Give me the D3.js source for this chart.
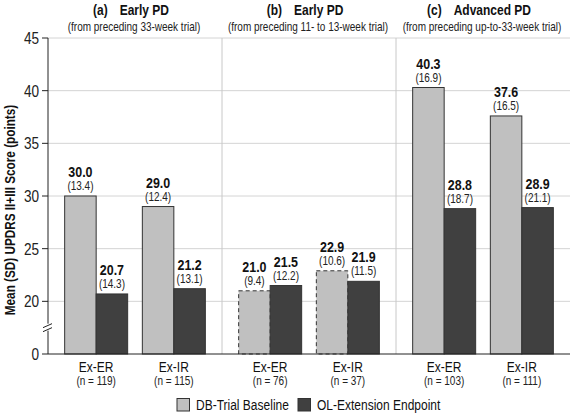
<!DOCTYPE html>
<html><head><meta charset="utf-8">
<script src="https://cdn.jsdelivr.net/npm/d3@7"></script>
<style>
body{margin:0;background:#fff;}
svg{font-family:"Liberation Sans",Arial,sans-serif;}
</style></head><body>
<svg id="c" width="570" height="413"></svg>
<script>
const panels = ["a","b","c"];
const panelTitles = ["Early PD","Early PD","Advanced PD"];
const panelSubtitles = ["(from preceding 33-week trial)","(from preceding 11- to 13-week trial)","(from preceding up-to-33-week trial)"];
const groups = [["Ex-ER","Ex-IR"],["Ex-ER","Ex-IR"],["Ex-ER","Ex-IR"]];
const nLabels = [["(n = 119)","(n = 115)"],["(n = 76)","(n = 37)"],["(n = 103)","(n = 111)"]];
const baselineMean = [[30.0,29.0],[21.0,22.9],[40.3,37.6]];
const baselineSD = [[13.4,12.4],[9.4,10.6],[16.9,16.5]];
const endpointMean = [[20.7,21.2],[21.5,21.9],[28.8,28.9]];
const endpointSD = [[14.3,13.1],[12.2,11.5],[18.7,21.1]];
const seriesNames = ["DB-Trial Baseline","OL-Extension Endpoint"];
const yTicks = [0,20,25,30,35,40,45];

const svg = d3.select("#c");
const mLeft = 48, mRight = 570, mTop = 38, mBottom = 354;
const colors = ["#c0c0c0","#404040"];
const SX = 0.8; // condensed look

function txt(parent, x, y, s, size, opts = {}) {
  const t = parent.append("text")
    .attr("transform", `translate(${x},${y}) scale(${opts.sx || SX},1)`)
    .attr("text-anchor", opts.anchor || "middle")
    .attr("font-size", size)
    .attr("font-weight", opts.bold ? "bold" : null)
    .attr("fill", opts.fill || "#1a1a1a");
  if (s !== null) t.text(s);
  return t;
}

// broken axis: 0 drawn at the position of 15
const yLin = d3.scaleLinear().domain([15,45]).range([mBottom, mTop]);
const y = v => v === 0 ? yLin(15) : yLin(v);

const xPanel = d3.scaleBand().domain(panels).range([mLeft, mRight]).padding(0);
const xGroup = d3.scalePoint().domain([0,1]).range([0, xPanel.bandwidth()]).padding(0.62);
const barW = 31.5;

// gridlines
svg.append("g").selectAll("line").data(yTicks.filter(t=>t>0)).join("line")
  .attr("x1", mLeft).attr("x2", mRight).attr("y1", d=>y(d)).attr("y2", d=>y(d))
  .attr("stroke", "#d4d4d4").attr("stroke-width", 1);

// panel separators
svg.append("g").selectAll("line").data(panels.slice(1)).join("line")
  .attr("x1", d=>xPanel(d)).attr("x2", d=>xPanel(d)).attr("y1", mTop).attr("y2", mBottom)
  .attr("stroke", "#c8c8c8").attr("stroke-width", 1);

// bars
panels.forEach((p, pi) => {
  const g = svg.append("g").attr("transform", `translate(${xPanel(p)},0)`);
  groups[pi].forEach((gname, gi) => {
    const cx = xGroup(gi);
    const vals = [baselineMean[pi][gi], endpointMean[pi][gi]];
    const sds = [baselineSD[pi][gi], endpointSD[pi][gi]];
    vals.forEach((v, si) => {
      const x0 = si === 0 ? cx - barW : cx;
      g.append("rect").attr("x", x0).attr("y", y(v)).attr("width", barW).attr("height", mBottom - y(v))
        .attr("fill", colors[si]).attr("stroke", "#333").attr("stroke-width", 1)
        .attr("stroke-dasharray", (pi === 1 && si === 0) ? "4,3" : null);
      txt(g, x0 + barW/2, y(v) - 19, v.toFixed(1), 14.5, {bold: true, sx: 0.86, fill: "#111"});
      txt(g, x0 + barW/2, y(v) - 6, `(${sds[si].toFixed(1)})`, 12.5, {fill: "#222"});
    });
    txt(g, cx, 372, gname, 15, {fill: "#111"});
    txt(g, cx, 385, nLabels[pi][gi], 12.5, {fill: "#222"});
  });
  const pc = xPanel.bandwidth()/2 - 4;
  const t = txt(g, pc, 15, null, 15, {bold: true, fill: "#111"});
  t.append("tspan").text(`(${p})`);
  t.append("tspan").attr("dx", 15).text(panelTitles[pi]);
  txt(g, pc + 3, 31, panelSubtitles[pi], 12.5, {fill: "#222"});
});

// y axis
const yAxis = svg.append("g");
yAxis.append("line").attr("x1", mLeft).attr("x2", mLeft).attr("y1", mTop).attr("y2", mBottom).attr("stroke","#222");
yAxis.selectAll("line.tick").data(yTicks).join("line").attr("class","tick")
  .attr("x1", mLeft-6).attr("x2", mLeft).attr("y1", d=>y(d)).attr("y2", d=>y(d)).attr("stroke","#222");
yTicks.forEach(d => txt(yAxis, mLeft-9, y(d) + 6, String(d), 17, {anchor: "end", fill: "#222"}));
// break mark
const by = (y(20) + y(0)) / 2 - 1;
svg.append("rect").attr("x", mLeft-5).attr("y", by-3).attr("width", 10).attr("height", 7).attr("fill","#fff");
svg.append("path").attr("d", `M${mLeft-5},${by+1} L${mLeft+4},${by-3} M${mLeft-5},${by+5} L${mLeft+4},${by+1}`)
  .attr("stroke","#222").attr("fill","none");
// x axis line
svg.append("line").attr("x1", mLeft).attr("x2", mRight).attr("y1", mBottom).attr("y2", mBottom).attr("stroke","#222");

// y label
svg.append("text").attr("transform", `translate(15,210) rotate(-90) scale(0.84,1)`)
  .attr("text-anchor","middle").attr("font-weight","bold").attr("font-size", 14).attr("fill","#111")
  .text("Mean (SD) UPDRS II+III Score (points)");

// legend
const lg = svg.append("g");
const legX = [177, 298];
seriesNames.forEach((s, i) => {
  lg.append("rect").attr("x", legX[i]).attr("y", 398.5).attr("width", 12.5).attr("height", 12.5)
    .attr("fill", colors[i]).attr("stroke","#333");
  txt(lg, legX[i] + 19, 410, s, 15, {anchor: "start", fill: "#111"});
});
</script></body></html>
